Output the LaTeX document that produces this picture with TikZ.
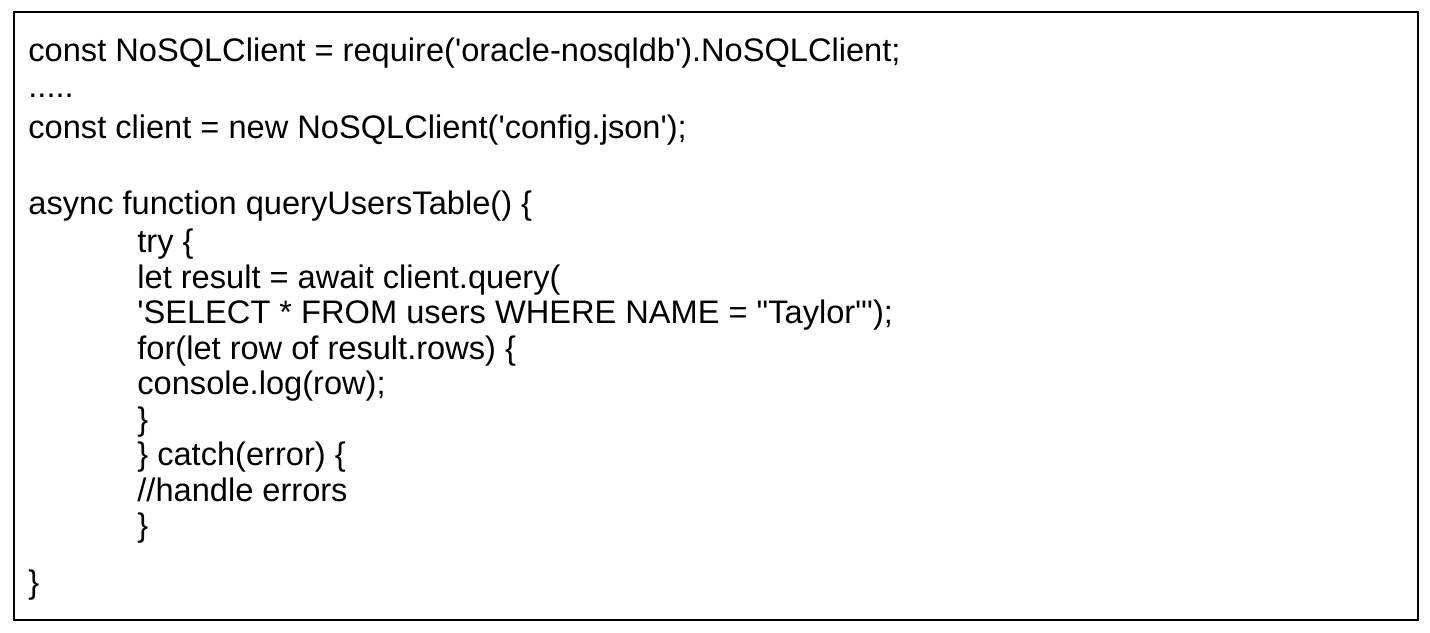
\documentclass[tikz,border=0pt]{standalone}
\usepackage{fontspec}
\setmainfont{Liberation Sans}
\newcommand{\sq}{\textquotesingle}
\newcommand{\dq}{\textquotedbl}
\begin{document}
\begin{tikzpicture}[x=0.5pt,y=-0.5pt,
  code/.style={anchor=base west,inner sep=0pt,font=\fontsize{16.3pt}{19pt}\selectfont}]
\useasboundingbox (0,0) rectangle (1430,632);
\draw[line width=1pt] (14,12) rectangle (1418,620);
\node[code] (l1) at (28,61) {const NoSQLClient = require(\sq oracle-nosqldb\sq).NoSQLClient;};
\node[code] (l2) at (28,97) {.....};
\node[code] (l3) at (28,138) {const client = new NoSQLClient(\sq config.json\sq);};
\node[code] (l5) at (28,214) {async function queryUsersTable() \{};
\node[code] (l6) at (137,252) {try \{};
\node[code] (l7) at (137,288) {let result = await client.query(};
\node[code] (l8) at (137,323) {\sq SELECT * FROM users WHERE NAME = \dq Taylor\dq\sq);};
\node[code] (l9) at (137,359) {for(let row of result.rows) \{};
\node[code] (l10) at (137,394) {console.log(row);};
\node[code] (l11) at (137,430) {\}};
\node[code] (l12) at (137,465) {\} catch(error) \{};
\node[code] (l13) at (137,501) {//handle errors};
\node[code] (l14) at (137,536) {\}};
\node[code] (l15) at (28,593) {\}};
\end{tikzpicture}
\end{document}
